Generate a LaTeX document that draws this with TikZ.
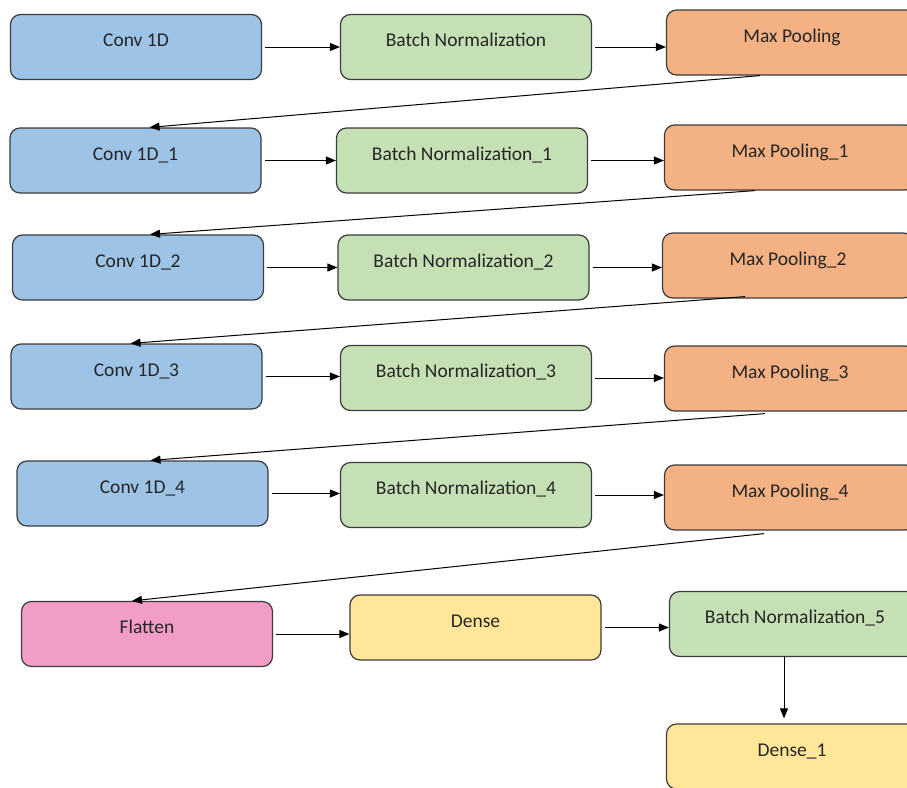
\documentclass[tikz,border=0pt]{standalone}
\usepackage{fontspec}
\setmainfont{Carlito}
\usetikzlibrary{arrows.meta,calc}
\definecolor{convblue}{RGB}{157,195,230}
\definecolor{normgreen}{RGB}{197,224,180}
\definecolor{poolorange}{RGB}{244,177,131}
\definecolor{flatpink}{RGB}{241,157,200}
\definecolor{denseyellow}{RGB}{255,230,153}
\definecolor{edgegray}{RGB}{60,60,60}

\begin{document}
\begin{tikzpicture}[x=1pt,y=-1pt,
  box/.style={draw=edgegray,line width=1.2pt,rounded corners=10pt,minimum width=251pt,
    inner sep=0pt,text height=32pt,text depth=33pt,font=\fontsize{19.5}{21}\selectfont,text=black!85},
  convbox/.style={box,fill=convblue},
  normbox/.style={box,fill=normgreen},
  poolbox/.style={box,fill=poolorange},
  flatbox/.style={box,fill=flatpink},
  densebox/.style={box,fill=denseyellow},
  arr/.style={-{Triangle[length=10pt,width=8pt]},line width=1pt,black,shorten <=3pt}]
\useasboundingbox (0,0) rectangle (907,787);
\clip (0,0) rectangle (907,787);
\fill[white] (0,0) rectangle (907,787);
% row 1
\node[convbox] (c0) at (136,47) {Conv 1D};
\node[normbox] (b0) at (466,47) {Batch Normalization};
\node[poolbox] (m0) at (792,42.5) {Max Pooling};
% row 2
\node[convbox] (c1) at (135.5,160.5) {Conv 1D\_1};
\node[normbox] (b1) at (462,160.5) {Batch Normalization\_1};
\node[poolbox] (m1) at (790,157.5) {Max Pooling\_1};
% row 3
\node[convbox] (c2) at (138,267.5) {Conv 1D\_2};
\node[normbox] (b2) at (463.5,267.5) {Batch Normalization\_2};
\node[poolbox] (m2) at (788,265.5) {Max Pooling\_2};
% row 4
\node[convbox] (c3) at (136.5,376.5) {Conv 1D\_3};
\node[normbox] (b3) at (466,378) {Batch Normalization\_3};
\node[poolbox] (m3) at (790,378.5) {Max Pooling\_3};
% row 5
\node[convbox] (c4) at (142.5,493.5) {Conv 1D\_4};
\node[normbox] (b4) at (466,495) {Batch Normalization\_4};
\node[poolbox] (m4) at (790,497.5) {Max Pooling\_4};
% row 6
\node[flatbox] (flat) at (147,634) {Flatten};
\node[densebox] (dense) at (475.5,627.5) {Dense};
\node[normbox] (b5) at (795,624) {Batch Normalization\_5};
\node[densebox] (d1) at (792,756.5) {Dense\_1};
% horizontal arrows
\foreach \a/\b in {c0/b0,c1/b1,c2/b2,c3/b3,c4/b4,flat/dense}
  \draw[arr] (\a.east) -- (\a.east -| \b.west);
\foreach \a/\b in {b0/m0,b1/m1,b2/m2,b3/m3,b4/m4,dense/b5}
  \draw[arr] (\a.east) -- (\a.east -| \b.west);
% diagonal arrows
\draw[arr,shorten <=0pt] ([xshift=-32pt]m0.south) -- ([xshift=14pt]c1.north);
\draw[arr,shorten <=0pt] ([xshift=-35pt]m1.south) -- ([xshift=12pt]c2.north);
\draw[arr,shorten <=0pt] ([xshift=-43pt,yshift=2pt]m2.south) -- ([xshift=-6pt]c3.north);
\draw[arr,shorten <=0pt] ([xshift=-25pt,yshift=-2pt]m3.south) -- ([xshift=8pt]c4.north);
\draw[arr,shorten <=0pt] ([xshift=-26pt,yshift=-3pt]m4.south) -- ([xshift=-15pt]flat.north);
% last one down
\draw[arr,shorten >=5pt,shorten <=0pt] ([xshift=-11pt]b5.south) -- ([xshift=-11pt]b5.south |- d1.north);
\end{tikzpicture}
\end{document}
